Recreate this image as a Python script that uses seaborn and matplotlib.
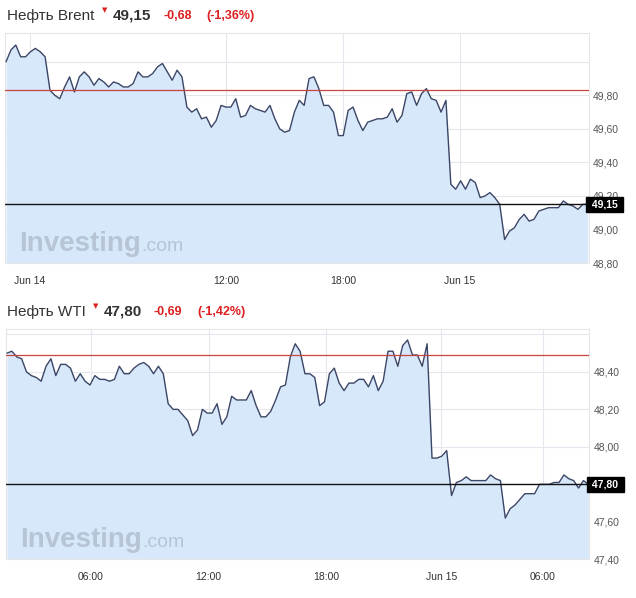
import numpy as np
import pandas as pd
import matplotlib
matplotlib.use('Agg')
import matplotlib.pyplot as plt
import seaborn as sns
from matplotlib.ticker import FuncFormatter

# 15-minute closes
brent = [50.00, 50.07, 50.10, 50.03, 50.03, 50.06, 50.08, 50.06, 50.03, 49.83,
         49.80, 49.78, 49.85, 49.91, 49.82, 49.91, 49.94, 49.91, 49.86, 49.90,
         49.88, 49.85, 49.88, 49.87, 49.85, 49.85, 49.87, 49.94, 49.91, 49.91,
         49.93, 49.97, 49.99, 49.94, 49.89, 49.95, 49.91, 49.73, 49.70, 49.72,
         49.66, 49.67, 49.61, 49.65, 49.74, 49.73, 49.73, 49.78, 49.67, 49.68,
         49.74, 49.72, 49.71, 49.70, 49.74, 49.66, 49.60, 49.58, 49.59, 49.70,
         49.77, 49.74, 49.90, 49.91, 49.84, 49.74, 49.74, 49.70, 49.56, 49.56,
         49.71, 49.73, 49.65, 49.59, 49.64, 49.65, 49.66, 49.66, 49.67, 49.72,
         49.64, 49.68, 49.81, 49.82, 49.74, 49.81, 49.84, 49.78, 49.77, 49.70,
         49.77, 49.27, 49.24, 49.29, 49.24, 49.30, 49.28, 49.19, 49.20, 49.22,
         49.19, 49.15, 48.94, 48.99, 49.01, 49.06, 49.09, 49.05, 49.06, 49.11,
         49.12, 49.13, 49.13, 49.13, 49.17, 49.15, 49.14, 49.12, 49.15, 49.15]

wti = [48.50, 48.51, 48.48, 48.47, 48.40, 48.38, 48.37, 48.35, 48.43, 48.47,
       48.38, 48.44, 48.44, 48.42, 48.35, 48.39, 48.35, 48.33, 48.38, 48.36,
       48.36, 48.35, 48.36, 48.43, 48.39, 48.39, 48.42, 48.44, 48.45, 48.43,
       48.39, 48.43, 48.39, 48.23, 48.20, 48.20, 48.17, 48.14, 48.06, 48.09,
       48.20, 48.18, 48.18, 48.23, 48.12, 48.16, 48.27, 48.25, 48.25, 48.25,
       48.30, 48.22, 48.16, 48.16, 48.19, 48.25, 48.32, 48.33, 48.48, 48.55,
       48.51, 48.39, 48.39, 48.37, 48.22, 48.24, 48.39, 48.42, 48.34, 48.30,
       48.34, 48.34, 48.36, 48.36, 48.32, 48.38, 48.30, 48.35, 48.51, 48.51,
       48.43, 48.54, 48.57, 48.49, 48.49, 48.43, 48.55, 47.94, 47.94, 47.95,
       47.98, 47.74, 47.81, 47.82, 47.84, 47.82, 47.82, 47.82, 47.82, 47.85,
       47.83, 47.82, 47.62, 47.67, 47.69, 47.72, 47.75, 47.75, 47.75, 47.80,
       47.80, 47.80, 47.81, 47.81, 47.85, 47.83, 47.82, 47.78, 47.82, 47.80]

brent_ticks = [4.9, 45, 68.9, 92.8]
brent_labels = ['Jun 14', '12:00', '18:00', 'Jun 15']
wti_ticks = [17.2, 41.3, 65.4, 88.9, 109.7]
wti_labels = ['06:00', '12:00', '18:00', 'Jun 15', '06:00']

brent_y = [48.80, 49.00, 49.20, 49.40, 49.60, 49.80, 50.00]
wti_y = [47.40, 47.60, 47.80, 48.00, 48.20, 48.40, 48.60]

brent_last, brent_chg, brent_pct = 49.15, '-0,68', '(-1,36%)'
wti_last, wti_chg, wti_pct = 47.80, '-0,69', '(-1,42%)'
brent_prev = 49.83
wti_prev = 48.49

sns.set_style('white')
plt.rcParams['font.family'] = ['Liberation Sans', 'DejaVu Sans']

fig = plt.figure(figsize=(6.36, 5.98), dpi=100)

FILL = '#d8e8fb'
LINE = '#3b4566'
GRID = '#e4e8ee'


def comma(v, pos=None):
    return f'{v:.2f}'.replace('.', ',')


def panel(rect, values, ylim, yticks, xt, xl, prev, last):
    ax = fig.add_axes(rect)
    df = pd.DataFrame({'i': np.arange(len(values)), 'price': values})
    ax.fill_between(df['i'], df['price'], ylim[0], color=FILL, lw=0, zorder=1)
    sns.lineplot(data=df, x='i', y='price', ax=ax, color=LINE, lw=1.0, zorder=3)
    ax.set_xlim(-0.2, len(values) - 0.8)
    ax.set_ylim(*ylim)
    ax.set_yticks(yticks)

    def fmt(v, p):
        # top grid line has no label, the last price sits in the black box
        if abs(v - yticks[-1]) < 1e-6 or abs(v - last) < 1e-6:
            return ''
        return comma(v)
    ax.yaxis.set_major_formatter(FuncFormatter(fmt))
    ax.yaxis.tick_right()
    ax.set_xticks(xt)
    ax.set_xticklabels(xl)
    ax.tick_params(axis='y', length=0, pad=3, labelsize=7.5, labelcolor='#555555')
    ax.tick_params(axis='x', length=0, pad=9, labelsize=7.5, labelcolor='#333333')
    ax.grid(True, color=GRID, lw=0.8, zorder=0)
    ax.set_axisbelow(True)
    ax.set_xlabel('')
    ax.set_ylabel('')
    for s in ax.spines.values():
        s.set_color('#e6e6e6')
        s.set_linewidth(0.8)
    ax.axhline(prev, color='#c8443f', lw=0.9, zorder=4)
    ax.axhline(last, color='#111111', lw=1.0, zorder=4)
    ax.text(1.0, last, ' ' + comma(last) + ' ', transform=ax.get_yaxis_transform(),
            ha='left', va='center', fontsize=7.5, fontweight='bold', color='white',
            bbox=dict(boxstyle='square,pad=0.25', fc='black', ec='black'),
            zorder=10, clip_on=False)
    ax.text(0.025, 0.083, 'Investing', transform=ax.transAxes, fontsize=20,
            fontweight='bold', color='#b6c4d6', ha='left', va='center', zorder=2)
    ax.text(0.234, 0.072, '.com', transform=ax.transAxes, fontsize=14,
            color='#b6c4d6', ha='left', va='center', zorder=2)
    return ax


panel([0.0079, 0.5602, 0.9177, 0.3841], brent, (48.80, 50.17), brent_y,
      brent_ticks, brent_labels, brent_prev, brent_last)
panel([0.0094, 0.0647, 0.9172, 0.3846], wti, (47.40, 48.627), wti_y,
      wti_ticks, wti_labels, wti_prev, wti_last)


def header(y, name, x_mark, x_last, last, x_chg, chg, x_pct, pct):
    yf = 1 - y / 598
    fig.text(7 / 636, yf, name, fontsize=11, color='#333333', ha='left', va='center')
    fig.text(x_mark / 636, yf + 0.01, '▼', fontsize=5, color='#e02020', ha='center', va='center',
             family=['DejaVu Sans'])
    fig.text(x_last / 636, yf, comma(last), fontsize=11, fontweight='bold', color='#333333',
             ha='left', va='center')
    fig.text(x_chg / 636, yf, chg, fontsize=9, fontweight='bold', color='#dd1f1f',
             ha='left', va='center')
    fig.text(x_pct / 636, yf, pct, fontsize=9, fontweight='bold', color='#dd1f1f',
             ha='left', va='center')


header(16, 'Нефть Brent', 105, 113, brent_last, 163, brent_chg, 206, brent_pct)
header(312, 'Нефть WTI', 96, 104, wti_last, 154, wti_chg, 197, wti_pct)

fig.savefig('out.png', dpi=100)
